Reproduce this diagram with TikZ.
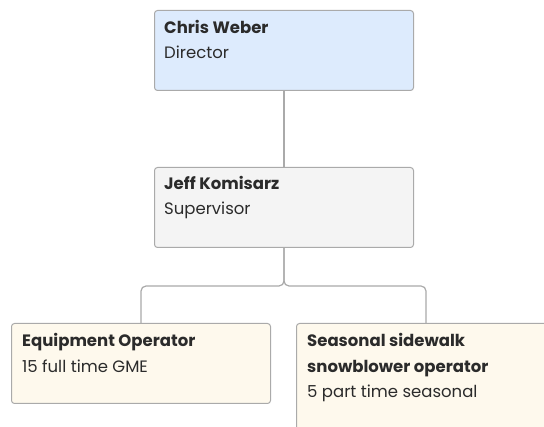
\documentclass[tikz,border=0pt]{standalone}
\usepackage{fontspec}
\setmainfont{Poppins}
\definecolor{edgegray}{HTML}{AAAAAA}
\definecolor{txt}{HTML}{2B2B2B}
\definecolor{bluefill}{HTML}{DDEBFD}
\definecolor{grayfill}{HTML}{F4F4F4}
\definecolor{creamfill}{HTML}{FEF9ED}
\tikzset{
  box/.style={draw=edgegray, line width=1pt, rounded corners=3pt, anchor=north west,
    minimum width=259pt, minimum height=80pt, inner sep=0pt},
  ttl/.style={anchor=base west, inner sep=0pt, text=txt, font=\fontsize{16.5}{19}\selectfont\bfseries},
  sub/.style={anchor=base west, inner sep=0pt, text=txt, font=\fontsize{16.5}{19}\selectfont},
  conn/.style={draw=edgegray, line width=1.2pt}
}
\begin{document}
\begin{tikzpicture}[x=1pt,y=-1pt]
\useasboundingbox (0,0) rectangle (544,427);
\fill[white] (0,0) rectangle (544,427);
\clip (0,0) rectangle (544,427);
\node[box, fill=bluefill] (dir) at (154,10) {};
\node[box, fill=grayfill] (jeff) at (154,167) {};
\node[box, fill=creamfill] (eq) at (11,323) {};
\node[box, fill=creamfill, minimum height=110pt] (sea) at (296,323) {};
\coordinate (split) at ([yshift=-38pt]jeff.south);
\draw[conn] (dir.south) -- (jeff.north);
\draw[conn, rounded corners=5pt] (jeff.south) -- (split) -- (eq.north |- split) -- (eq.north);
\draw[conn, rounded corners=5pt] (jeff.south) -- (split) -- (sea.north |- split) -- (sea.north);
\node[ttl] (t1) at (164,34) {Chris Weber};
\node[sub] (s1) at (164,59) {Director};
\node[ttl] (t2) at (164,190) {Jeff Komisarz};
\node[sub] (s2) at (164,215) {Supervisor};
\node[ttl] (t3) at (22,347) {Equipment Operator};
\node[sub] (s3) at (22,373) {15 full time GME};
\node[ttl] (t4a) at (307,347) {Seasonal sidewalk};
\node[ttl] (t4b) at (307,373) {snowblower operator};
\node[sub] (s4) at (307,398) {5 part time seasonal};
\end{tikzpicture}
\end{document}
